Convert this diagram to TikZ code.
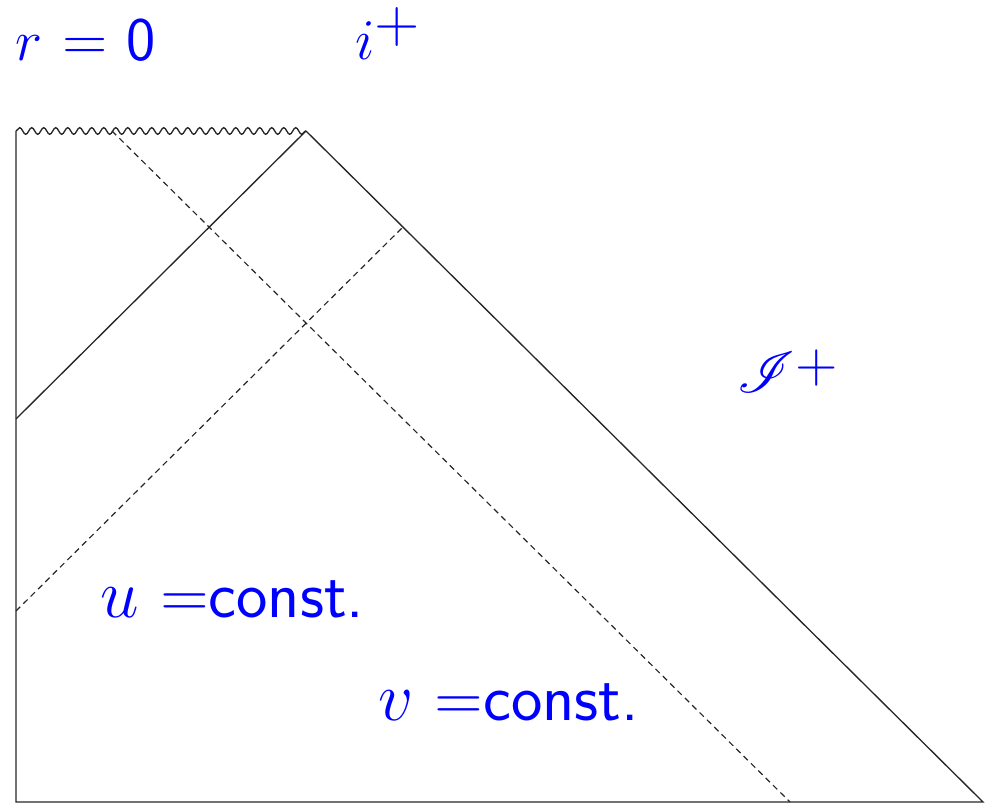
\documentclass[tikz,border=0pt]{standalone}
\usepackage{mathrsfs}
\usetikzlibrary{decorations.pathmorphing}
\begin{document}
\begin{tikzpicture}[x=0.3pt,y=-0.3pt,
  edge/.style={draw=black!85,line width=0.4pt},
  nullline/.style={draw=black!85,line width=0.35pt,dash pattern=on 1.8pt off 1.3pt},
  sing/.style={draw=black!85,line width=0.4pt,decorate,decoration={snake,segment length=3.6pt,amplitude=1pt}},
  lab/.style={text=blue,font=\sffamily\fontsize{17.4}{20}\selectfont,inner sep=0pt,anchor=base west},
  rlab/.style={text=blue,font=\sffamily\fontsize{18.6}{22}\selectfont,inner sep=0pt,anchor=base west},
  biglab/.style={text=blue,font=\sffamily\fontsize{20}{24}\selectfont,inner sep=0pt,anchor=base west}]
\useasboundingbox (0,0) rectangle (990,810);
\coordinate (A) at (16,802);
\coordinate (B) at (16,131);
\coordinate (C) at (306,131);
\coordinate (D) at (983,802);
\coordinate (E) at (16,419);
\coordinate (F) at (16,611);
\coordinate (G) at (403,227);
\coordinate (H) at (112,131);
\coordinate (K) at (790,802);
\draw[edge] (B) -- (A) -- (D) -- (C);
\draw[sing] (B) -- (C);
\draw[edge] (E) -- (C);
\draw[nullline] (F) -- (G);
\draw[nullline] (H) -- (K);
\node[rlab] (r0) at (15,61) {$r$ = 0};
\node[lab] (ip) at (355,60) {$i$\raisebox{5.3pt}{\fontsize{18.6}{22}\selectfont+}};
\node[lab] (scri) at (737,393) {$\mathscr{I}$\raisebox{3pt}{+}};
\node[biglab] (u) at (100,618) {$u$ =const.};
\node[biglab] (v) at (378,720) {$v$ =const.};
\end{tikzpicture}
\end{document}
